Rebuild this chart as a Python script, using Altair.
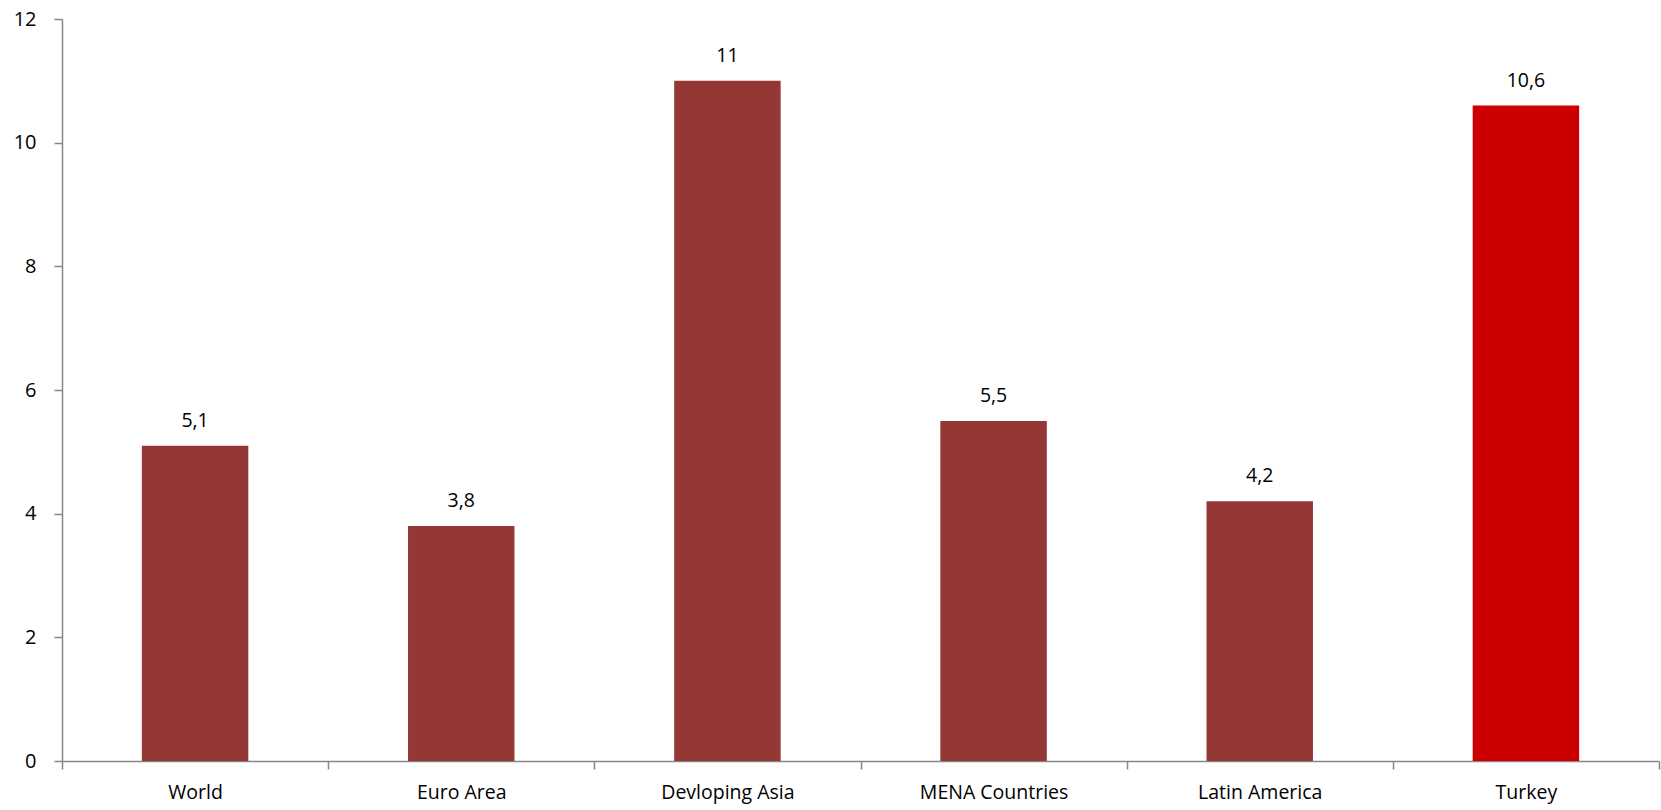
import altair as alt
import pandas as pd

categories = ["World", "Euro Area", "Devloping Asia", "MENA Countries", "Latin America", "Turkey"]
values = [5.1, 3.8, 11, 5.5, 4.2, 10.6]
colors = ["#953735", "#953735", "#953735", "#953735", "#953735", "#CC0000"]
labels = [str(v).replace(".", ",") for v in values]

df = pd.DataFrame({"cat": categories, "val": values, "color": colors, "label": labels})

FONT = "Open Sans"

x = alt.X("cat:N", sort=categories, title=None,
          scale=alt.Scale(paddingInner=0, paddingOuter=0),
          axis=alt.Axis(labelAngle=0, labelFontSize=19.5, labelFont=FONT, labelColor="#000000",
                        domainColor="#878787", tickColor="#878787", tickBand="extent",
                        tickSize=8, labelPadding=14, domainWidth=1.5, tickWidth=1.5))
y = alt.Y("val:Q", title=None,
          scale=alt.Scale(domain=[0, 12]),
          axis=alt.Axis(values=[0, 2, 4, 6, 8, 10, 12], format="d", grid=False, labelFontSize=20, labelFont=FONT,
                        labelColor="#000000", domainColor="#878787", tickColor="#878787",
                        tickSize=8, labelPadding=18, domainWidth=1.5, tickWidth=1.5))

bars = alt.Chart(df).mark_bar(width=alt.RelativeBandSize(0.4)).encode(
    x=x, y=y, color=alt.Color("color:N", scale=None)
)
text = alt.Chart(df).mark_text(baseline="bottom", dy=-15, fontSize=19.5, font=FONT, color="#000000").encode(
    x=alt.X("cat:N", sort=categories), y="val:Q", text="label:N"
)

chart = (bars + text).properties(
    width=1597, height=742,
    padding={"left": 62, "top": 19, "right": 2, "bottom": 49},
    autosize=alt.AutoSizeParams(type="none"),
).configure_view(stroke=None)

chart.save("out.html", embed_options={"renderer": "svg", "actions": False})
